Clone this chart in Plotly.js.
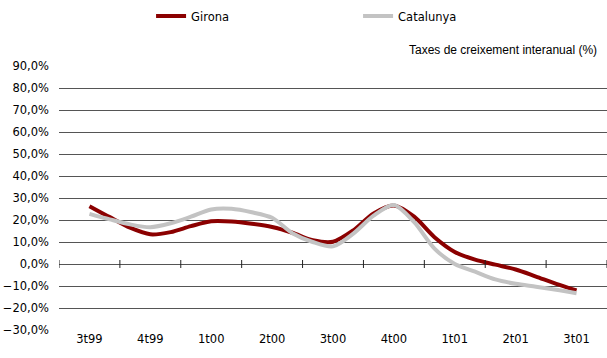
<!DOCTYPE html>
<html>
<head>
<meta charset="utf-8">
<script src="https://cdn.plot.ly/plotly-3.0.1.min.js"></script>
<style>html,body{margin:0;padding:0;background:#fff;}#chart{width:607px;height:358px;}</style>
</head>
<body>
<div id="chart"></div>
<script>
// Quarter labels (one every 3 monthly points)
const quarterLabels = ['3t99','4t99','1t00','2t00','3t00','4t00','1t01','2t01','3t01'];
// Year-on-year growth rates (%), monthly points from 3t99 to 3t01
const girona = [26.3, 21.3, 16.5, 13.5, 14.5, 17.2, 19.4, 19.3, 18.3, 16.8, 14.2, 10.8, 10.1,
                15.3, 23.0, 26.6, 21.5, 12.2, 5.5, 2.0, -0.3, -2.5, -5.7, -9.0, -12.0];
const catalunya = [22.8, 20.3, 18.0, 16.7, 18.5, 21.5, 24.8, 25.1, 23.5, 21.0, 14.0, 10.0, 8.0,
                   13.8, 22.0, 26.8, 19.0, 7.0, 0.0, -3.5, -7.0, -9.0, -10.3, -11.7, -13.3];
const seriesNames = ['Girona', 'Catalunya'];
const yTitle = 'Taxes de creixement interanual (%)';

const monthsPerQuarter = 3;
const xIdx = girona.map((_, i) => i);
const tickVals = quarterLabels.map((_, i) => i * monthsPerQuarter);
const boundaries = [];
for (let j = 0; j <= quarterLabels.length; j++) boundaries.push(j * monthsPerQuarter - monthsPerQuarter / 2);

const font = '"DejaVu Sans", "Liberation Sans", Arial, sans-serif';

const traces = [
  {x: xIdx, y: girona, name: seriesNames[0], type: 'scatter', mode: 'lines',
   line: {color: '#8b0000', width: 4, shape: 'spline', smoothing: 0.8}},
  {x: xIdx, y: catalunya, name: seriesNames[1], type: 'scatter', mode: 'lines',
   line: {color: '#c3c3c3', width: 4, shape: 'spline', smoothing: 0.8}}
];

const shapes = boundaries.map(b => ({
  type: 'line', xref: 'x', yref: 'y', x0: b, x1: b,
  ysizemode: 'pixel', yanchor: 0, y0: -4, y1: 4,
  line: {color: '#222', width: 1}
}));

const layout = {
  width: 607, height: 358,
  margin: {l: 59, r: 0, t: 66, b: 28, autoexpand: false},
  paper_bgcolor: '#fff', plot_bgcolor: '#fff',
  separators: ',.',
  font: {family: font, size: 12, color: '#000'},
  showlegend: true,
  legend: {orientation: 'h', x: 0.168, xanchor: 'left', y: 1.189, yanchor: 'middle',
           font: {family: font, size: 11.5, color: '#000'}, entrywidth: 162, entrywidthmode: 'pixels',
           bgcolor: 'rgba(0,0,0,0)'},
  xaxis: {range: [boundaries[0], boundaries[boundaries.length - 1]],
          tickvals: tickVals, ticktext: quarterLabels, ticks: '', showgrid: false,
          zeroline: false, showline: false, tickfont: {family: font, size: 11.5, color: '#000'}},
  yaxis: {range: [-30, 90], dtick: 10, tick0: 0, tickformat: '.1f', ticksuffix: '%',
          showgrid: true, gridcolor: '#555', gridwidth: 1, zeroline: false, showline: false,
          ticks: '', ticklabelstandoff: 9,
          tickfont: {family: font, size: 11.5, color: '#000'}},
  shapes: shapes,
  annotations: [{text: yTitle, xref: 'paper', yref: 'paper', x: 0.985, xanchor: 'right',
                 y: 1.06, yanchor: 'middle', showarrow: false,
                 font: {family: '"Liberation Sans Narrow", "Liberation Sans", Arial, sans-serif', size: 12, color: '#000'}}]
};

Plotly.newPlot('chart', traces, layout, {displayModeBar: false, staticPlot: true});
</script>
</body>
</html>
